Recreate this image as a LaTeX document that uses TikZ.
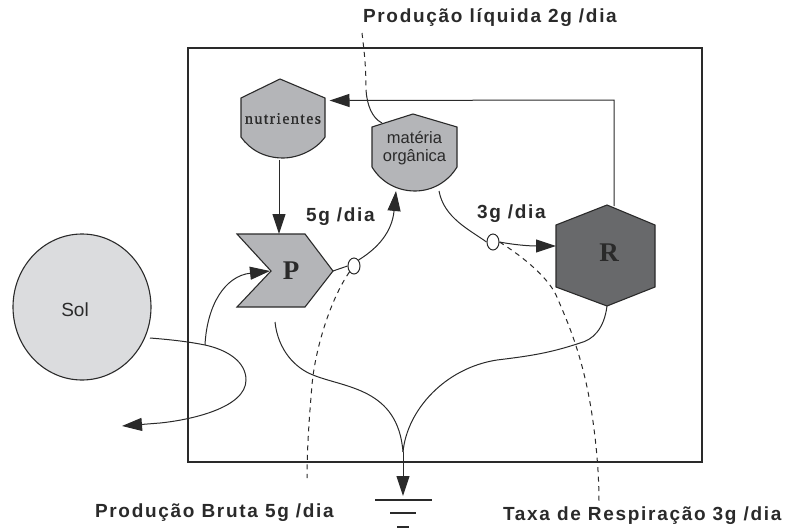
\documentclass[tikz,border=0pt]{standalone}
\usepackage{fontspec}
\setmainfont{Liberation Sans}
\newfontfamily\lblfont[LetterSpace=9]{Liberation Sans Bold}
\newfontfamily\nutfont[LetterSpace=9,FakeBold=1]{Liberation Serif}
\newfontfamily\serfont{Liberation Serif}
\usetikzlibrary{arrows.meta,shapes.geometric}
\definecolor{ink}{HTML}{2A2A2A}
\definecolor{shapegray}{HTML}{B4B5B8}
\definecolor{solgray}{HTML}{DBDCDE}
\definecolor{rgray}{HTML}{68696B}
\tikzset{
  line/.style={draw=ink,line width=1pt},
  flow/.style={line,-{Triangle[length=20pt,width=13pt]}},
  hint/.style={draw=ink,line width=1pt,dash pattern=on 5pt off 4.5pt},
  tank/.style={draw=ink,line width=1.1pt,fill=shapegray},
  anchorbox/.style={inner sep=0pt,outer sep=0pt,text=ink,align=center},
  lbl/.style={inner sep=0pt,outer sep=0pt,text=ink,font=\lblfont\fontsize{19}{19}\selectfont},
  valve/.style={draw=ink,line width=1pt,fill=white,ellipse,inner sep=0pt}
}
\begin{document}
\begin{tikzpicture}[x=1pt,y=-1pt]
\useasboundingbox (0,0) rectangle (787,530);
% system box
\draw[draw=ink,line width=1.3pt] (188,48) rectangle (702,462);
% shapes
\draw[tank] (241,98) -- (280,79) -- (325,98) -- (325,137) .. controls (316,150) and (298,158) .. (283,158) .. controls (265,158) and (250,150) .. (241,137) -- cycle;
\draw[tank] (372,127) -- (413,114) -- (457,127) -- (457,167) .. controls (448,182) and (432,191) .. (415,191) .. controls (397,191) and (381,182) .. (372,167) -- cycle;
\draw[tank] (237,234) -- (305,234) -- (333,271) -- (305,307) -- (237,307) -- (271,271) -- cycle;
\draw[draw=ink,line width=1.1pt,fill=rgray] (607,205) -- (655,225) -- (655,287) -- (607,306) -- (556,287) -- (556,225) -- cycle;
\draw[draw=ink,line width=1.1pt,fill=solgray] (82,307) ellipse [x radius=69,y radius=73];
% labelled nodes over the shapes
\node[anchorbox,minimum width=84pt,minimum height=79pt,font=\nutfont\fontsize{16}{16}\selectfont] (nut) at (283,118.5) {nutrientes};
\node[anchorbox,minimum width=85pt,minimum height=86pt,font=\fontsize{16.5}{18}\selectfont] (mo) at (414.5,148) {matéria\\orgânica};
\node[anchorbox,minimum width=40pt,minimum height=73pt,font=\serfont\bfseries\fontsize{27}{27}\selectfont] (P) at (291,270.5) {P};
\node[anchorbox,minimum width=106pt,minimum height=96pt,font=\serfont\bfseries\fontsize{27}{27}\selectfont] (R) at (609,253) {R};
\node[anchorbox,minimum width=138pt,minimum height=146pt,font=\fontsize{19}{19}\selectfont] (sol) at (75,310) {Sol};
% valves
\node[valve,minimum width=12pt,minimum height=16pt] (v1) at (354,266) {};
\node[valve,minimum width=12pt,minimum height=16pt] (v2) at (493,242) {};
% labels
\node[lbl,anchor=west] (liq) at (363,18) {Produção líquida 2g /dia};
\node[lbl,anchor=west] (bruta) at (95,513) {Produção Bruta 5g /dia};
\node[lbl,anchor=west] (taxa) at (503,516) {Taxa de Respiração 3g /dia};
\node[lbl,anchor=west] (lab5) at (306,217) {5g /dia};
\node[lbl,anchor=west] (lab3) at (477,214) {3g /dia};
% free ends
\coordinate (split) at (205,345);
\coordinate (out) at (122,426);
\coordinate (pnotch) at (270,271);
\coordinate (ptip) at (333,271);
\coordinate (pdrain) at (275,322);
\coordinate (merge) at (403,452);
\coordinate (gtop) at (403,496);
\coordinate (g1a) at (375,500);\coordinate (g1b) at (432,500);
\coordinate (g2a) at (390,513);\coordinate (g2b) at (416,513);
\coordinate (g3a) at (397,527);\coordinate (g3b) at (409,527);
\coordinate (sout) at (150,338);
\coordinate (corner) at (614,100);
\coordinate (bend) at (366,90);
\coordinate (liqend) at (362,33);
\coordinate (brutaend) at (307,478);
\coordinate (taxaend) at (599,502);
% connectors
\draw[flow] ([xshift=5pt,yshift=-1pt]R.north) -- (corner) -- ([xshift=4.5pt,yshift=-0.5pt]nut.east |- corner);
\draw[flow] ([xshift=-4pt,yshift=-2pt]nut.south) -- ([xshift=-12pt]P.north);
\draw[line] (ptip) -- (v1.west);
\draw[flow] (v1.north east) .. controls (378,248) and (392,232) .. ([xshift=-18.5pt,yshift=0pt]mo.south);
\draw[line] ([xshift=24.5pt,yshift=0pt]mo.south) .. controls (444,218) and (470,230) .. (v2.west);
\draw[flow] (v2.east) .. controls (515,245) and (530,246) .. ([yshift=7pt]R.west);
\draw[line] (sout) .. controls (175,340) and (190,342) .. (split);
\draw[line] (split) .. controls (228,350) and (246,362) .. (246,380) .. controls (246,408) and (190,420) .. (160,423);
\draw[flow] (160,423) -- (out);
\draw[flow] (split) .. controls (207,305) and (225,276) .. (pnotch);
\draw[line] (pdrain) .. controls (278,350) and (295,368) .. (313,375) .. controls (345,388) and (398,388) .. (merge);
\draw[line] ([xshift=-2pt,yshift=-5pt]R.south) .. controls (604,330) and (592,340) .. (580,343) .. controls (550,353) and (530,356) .. (497,360) .. controls (445,368) and (407,410) .. (merge);
\draw[flow] (merge) -- (gtop);
\draw[line,line width=1.2pt] (g1a) -- (g1b);
\draw[line,line width=1.2pt] (g2a) -- (g2b);
\draw[line,line width=1.2pt] (g3a) -- (g3b);
% dashed leaders
\draw[hint] (liqend) .. controls (364,50) and (366,65) .. (bend);
\draw[line] (bend) .. controls (367,105) and (372,118) .. (382,123);
\draw[hint] (v1.south west) .. controls (330,300) and (315,350) .. (312,385) .. controls (309,420) and (307,450) .. (brutaend);
\draw[hint] (v2.east) .. controls (525,258) and (548,278) .. (556,295) .. controls (566,318) and (578,345) .. (587,387) .. controls (593,415) and (599,460) .. (taxaend);
\end{tikzpicture}
\end{document}
